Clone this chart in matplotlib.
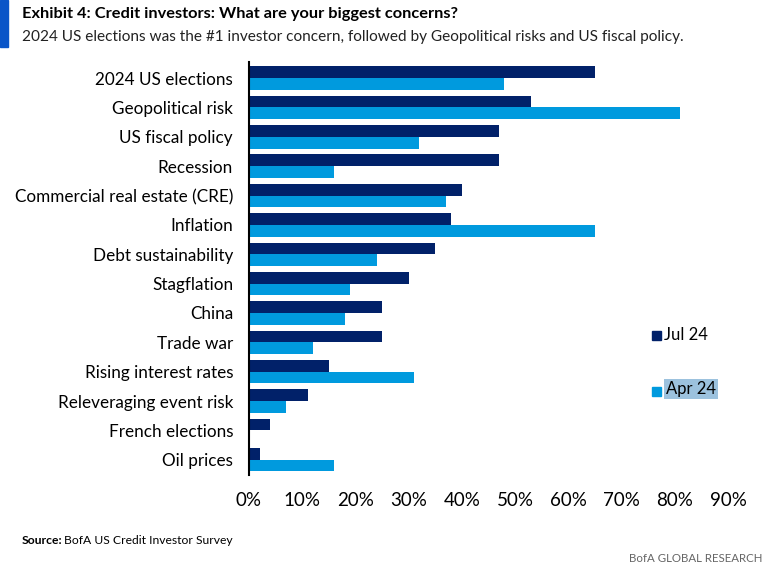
import numpy as np
import matplotlib.pyplot as plt
from matplotlib.patches import Rectangle
from matplotlib.ticker import PercentFormatter

CATEGORIES = [
    "2024 US elections", "Geopolitical risk", "US fiscal policy", "Recession",
    "Commercial real estate (CRE)", "Inflation", "Debt sustainability",
    "Stagflation", "China", "Trade war", "Rising interest rates",
    "Releveraging event risk", "French elections", "Oil prices",
]
JUL_24 = [65, 53, 47, 47, 40, 38, 35, 30, 25, 25, 15, 11, 4, 2]
APR_24 = [48, 81, 32, 16, 37, 65, 24, 19, 18, 12, 31, 7, 0, 16]

NAVY = "#012169"
LIGHT = "#009ADE"
plt.rcParams["font.family"] = ["Lato", "DejaVu Sans"]

fig = plt.figure(figsize=(7.78, 5.67), dpi=100)
ax = fig.add_axes([249 / 778, 1 - 475 / 567, (728 - 249) / 778, (475 - 62) / 567])

y = np.arange(len(CATEGORIES))
h = 0.4
ax.barh(y - h / 2, JUL_24, height=h, color=NAVY, label="Jul 24")
ax.barh(y + h / 2, APR_24, height=h, color=LIGHT, label="Apr 24")

ax.set_xlim(0, 90)
ax.set_ylim(13.52, -0.55)
ax.set_xticks(np.arange(0, 91, 10))
ax.xaxis.set_major_formatter(PercentFormatter(decimals=0))
ax.set_yticks(y)
ax.set_yticklabels(CATEGORIES, fontsize=12.3)
ax.tick_params(axis="x", labelsize=13.5, length=0, pad=12)
ax.tick_params(axis="y", length=0, pad=11.5)
for s in ["top", "right", "bottom"]:
    ax.spines[s].set_visible(False)
ax.spines["left"].set_linewidth(1.5)
ax.spines["left"].set_color("black")

# legend drawn as squares + text in figure coords
fig.patches.append(Rectangle((652 / 778, 1 - 340 / 567), 9 / 778, 9 / 567,
                             transform=fig.transFigure, color=NAVY))
fig.text(664 / 778, 1 - 335 / 567, "Jul 24", fontsize=12, va="center")
fig.patches.append(Rectangle((652 / 778, 1 - 396 / 567), 9 / 778, 9 / 567,
                             transform=fig.transFigure, color=LIGHT))
fig.text(666 / 778, 1 - 389 / 567, "Apr 24", fontsize=12, va="center",
         bbox=dict(facecolor="#9cc2de", edgecolor="none", pad=1.5))

# header
fig.patches.append(Rectangle((0, 1 - 47 / 567), 8 / 778, 47 / 567,
                             transform=fig.transFigure, color="#0a55c8"))
fig.text(22 / 778, 1 - 14 / 567, "Exhibit 4: Credit investors: What are your biggest concerns?",
         fontsize=11.8, fontweight="bold", va="center")
fig.text(22 / 778, 1 - 37 / 567,
         "2024 US elections was the #1 investor concern, followed by Geopolitical risks and US fiscal policy.",
         fontsize=11.1, va="center", color="#222222")

# footer
fig.text(22 / 778, 1 - 541 / 567, "Source:", fontsize=8.7, fontweight="bold", va="center")
fig.text(64 / 778, 1 - 541 / 567, "BofA US Credit Investor Survey", fontsize=8.7, va="center")
fig.text(762 / 778, 1 - 559 / 567, "BofA GLOBAL RESEARCH", fontsize=8.3,
         va="center", ha="right", color="#666666")

fig.savefig("out.png", dpi=100)
